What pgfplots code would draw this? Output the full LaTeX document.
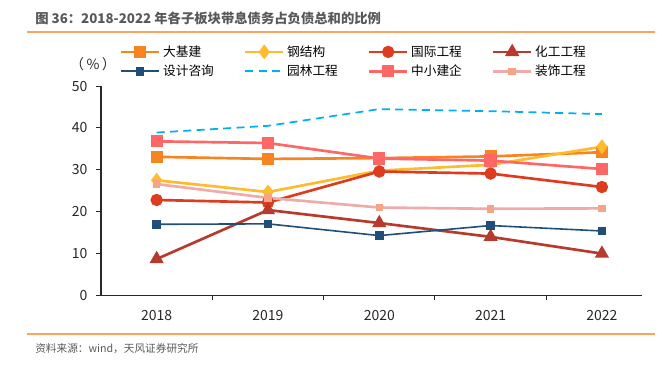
\documentclass[border=0pt]{standalone}
\usepackage{fontspec}
\setmainfont{Noto Sans CJK SC}
\usepackage{pgfplots}
\pgfplotsset{compat=1.18}
\definecolor{cOrange}{RGB}{246,132,32}
\definecolor{cGold}{RGB}{253,187,45}
\definecolor{cRed}{RGB}{222,60,30}
\definecolor{cDarkRed}{RGB}{183,58,44}
\definecolor{cNavy}{RGB}{31,78,121}
\definecolor{cCyan}{RGB}{0,176,240}
\definecolor{cSalmon}{RGB}{255,102,102}
\definecolor{cPink}{RGB}{240,170,170}
\definecolor{cPinkMark}{RGB}{245,165,135}
\definecolor{ruleorange}{RGB}{247,165,95}
\definecolor{titlegray}{RGB}{89,89,89}
\definecolor{axisgray}{RGB}{40,40,40}
\begin{document}
\begin{tikzpicture}[x=0.75pt,y=0.75pt]
\path[use as bounding box] (0,0) rectangle (662,365);
\node[anchor=west, font=\bfseries\fontsize{10}{12}\selectfont, text=titlegray, inner sep=0] at (35,347) {图 36：2018-2022 年各子板块带息债务占负债总和的比例};
\draw[ruleorange, line width=1pt] (27,333) -- (655,333);
\draw[ruleorange, line width=1pt] (27,31) -- (655,31);
\node[anchor=west, font=\fontsize{8}{10}\selectfont, text=titlegray, inner sep=0] at (35,16) {资料来源：wind，天风证券研究所};
\node[font=\fontsize{10.5}{12}\selectfont, text=axisgray] at (93,301) {（\,\%\,）};
\begin{axis}[
  at={(75.75pt,52.125pt)}, anchor=south west,
  scale only axis, width=405.75pt, height=157.1pt,
  xmin=2017.5, xmax=2022.36, ymin=0, ymax=50,
  axis x line*=bottom, axis y line*=left,
  axis line style={-, axisgray, line width=0.8pt},
  xtick={2018,2019,2020,2021,2022},
  xticklabels={2018,2019,2020,2021,2022},
  minor xtick={2018.5,2019.5,2020.5,2021.5},
  every major x tick/.append style={draw opacity=0},
  ytick={0,10,20,30,40,50},
  tick align=outside,
  major tick length=3.75pt, minor tick length=3pt,
  tick style={axisgray, line width=0.7pt},
  /pgf/number format/assume math mode=true,
  ticklabel style={font=\fontsize{10.5}{12}\selectfont, text=axisgray},
  yticklabel style={xshift=-3pt},
  xticklabel style={yshift=-4pt},
  clip=false,
  legend columns=4,
  legend cell align=left,
  legend style={at={(0.027,1.22)}, anchor=north west, draw=none, fill=none,
    font=\fontsize{9.5}{11}\selectfont, row sep=1pt,
    /tikz/every even column/.append style={column sep=20.5pt}},
  legend image code/.code={\draw[mark repeat=2,mark phase=2,#1] plot coordinates {(0pt,0pt) (14.25pt,0pt) (28.5pt,0pt)};},
]
\addplot[cOrange, line width=2pt, mark=square*, mark size=3.5pt, mark options={solid}] coordinates {(2018,33.1) (2019,32.6) (2020,32.8) (2021,33.2) (2022,34.2)};
\addlegendentry{大基建}
\addplot[cGold, line width=2pt, mark=diamond*, mark size=4pt, mark options={solid}] coordinates {(2018,27.5) (2019,24.7) (2020,29.8) (2021,31.2) (2022,35.5)};
\addlegendentry{钢结构}
\addplot[cRed, line width=2pt, mark=*, mark size=3.6pt, mark options={solid}] coordinates {(2018,22.8) (2019,22.2) (2020,29.6) (2021,29.1) (2022,25.9)};
\addlegendentry{国际工程}
\addplot[cDarkRed, line width=2pt, mark=triangle*, mark size=4.2pt, mark options={solid}] coordinates {(2018,8.7) (2019,20.4) (2020,17.3) (2021,14.0) (2022,10.0)};
\addlegendentry{化工工程}
\addplot[cNavy, line width=1.2pt, mark=square*, mark size=2.6pt, mark options={solid}] coordinates {(2018,17.0) (2019,17.1) (2020,14.3) (2021,16.7) (2022,15.4)};
\addlegendentry{设计咨询}
\addplot[cCyan, line width=1.3pt, dash pattern=on 6pt off 4pt] coordinates {(2018,38.9) (2019,40.5) (2020,44.5) (2021,44.0) (2022,43.3)};
\addlegendentry{园林工程}
\addplot[cSalmon, line width=2pt, mark=square*, mark size=3.6pt, mark options={solid}] coordinates {(2018,36.8) (2019,36.4) (2020,32.7) (2021,32.2) (2022,30.2)};
\addlegendentry{中小建企}
\addplot[cPink, line width=2pt, mark=square*, mark size=1.8pt, mark options={solid, fill=cPinkMark, draw=cPinkMark}] coordinates {(2018,26.6) (2019,23.3) (2020,21.0) (2021,20.7) (2022,20.8)};
\addlegendentry{装饰工程}
\end{axis}
\end{tikzpicture}
\end{document}
